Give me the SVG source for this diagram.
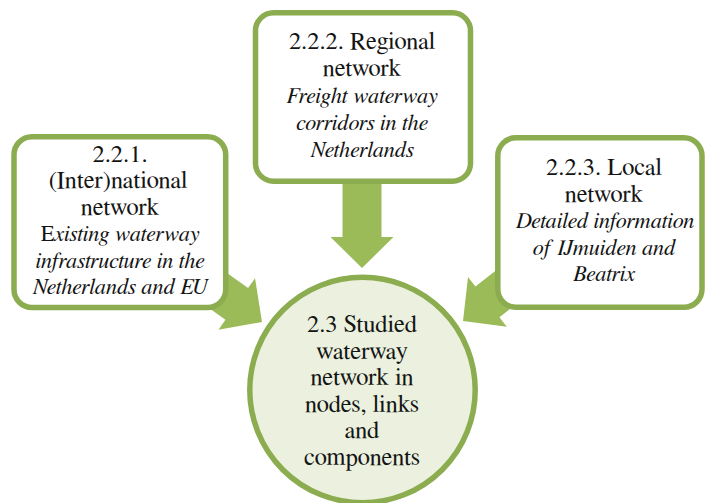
<svg xmlns="http://www.w3.org/2000/svg" width="705" height="503" viewBox="0 0 705 503">
  <style>
    .box { fill: #ffffff; stroke: #8cac50; stroke-width: 5.5; }
    .hub { fill: #ebf1de; stroke: #8cac50; stroke-width: 5.5; }
    .arrow { fill: #9bbb59; stroke: none; }
    .lbl { fill: #141414; text-anchor: middle; font-family: 'FreeSerif', 'DejaVu Serif', serif; }
    .t { font-size: 24.5px; }
    .i { font-size: 22.3px; font-style: italic; }
  </style>
  <defs>
    <!-- block arrow pointing along +x, tip at origin -->
    <polygon id="blockArrow" points="0,0 -31,-31.5 -31,-19.5 -90,-19.5 -90,19.5 -31,19.5 -31,31.5"/>
  </defs>

  <g id="connectors">
    <use href="#blockArrow" class="arrow" transform="translate(262,322) rotate(35.5)"/>
    <use href="#blockArrow" class="arrow" transform="translate(362,268) rotate(90)"/>
    <use href="#blockArrow" class="arrow" transform="translate(463,321) rotate(142)"/>
  </g>

  <g id="node-international">
    <rect class="box" x="14" y="136.7" width="211.7" height="170.8" rx="18"/>
    <g class="lbl">
      <text class="t" x="120" y="161.5">2.2.1.</text>
      <text class="t" x="118" y="188">(Inter)national</text>
      <text class="t" x="120" y="214.5">network</text>
      <text class="i" x="120" y="241"><tspan font-style="normal">E</tspan>xisting waterway</text>
      <text class="i" x="120" y="267.5">infrastructure in the</text>
      <text class="i" x="120" y="294">Netherlands and EU</text>
    </g>
  </g>

  <g id="node-regional">
    <rect class="box" x="255.5" y="12.8" width="215" height="168.4" rx="18"/>
    <g class="lbl">
      <text class="t" x="362" y="49">2.2.2. Regional</text>
      <text class="t" x="362" y="76">network</text>
      <text class="i" x="362" y="103">Freight waterway</text>
      <text class="i" x="362" y="130">corridors in the</text>
      <text class="i" x="362" y="157">Netherlands</text>
    </g>
  </g>

  <g id="node-local">
    <rect class="box" x="497.8" y="137.8" width="204.2" height="169.5" rx="18"/>
    <g class="lbl">
      <text class="t" x="604" y="175">2.2.3. Local</text>
      <text class="t" x="604" y="201.5">network</text>
      <text class="i" x="605" y="228">Detailed information</text>
      <text class="i" x="604" y="254.5">of IJmuiden and</text>
      <text class="i" x="604" y="281">Beatrix</text>
    </g>
  </g>

  <g id="node-studied">
    <circle class="hub" cx="362.5" cy="390" r="112.7"/>
    <g class="lbl">
      <text class="t" x="362" y="332">2.3 Studied</text>
      <text class="t" x="362" y="358.5">waterway</text>
      <text class="t" x="362" y="385">network in</text>
      <text class="t" x="362" y="411.5">nodes, links</text>
      <text class="t" x="362" y="438">and</text>
      <text class="t" x="362" y="464.5">components</text>
    </g>
  </g>
</svg>
